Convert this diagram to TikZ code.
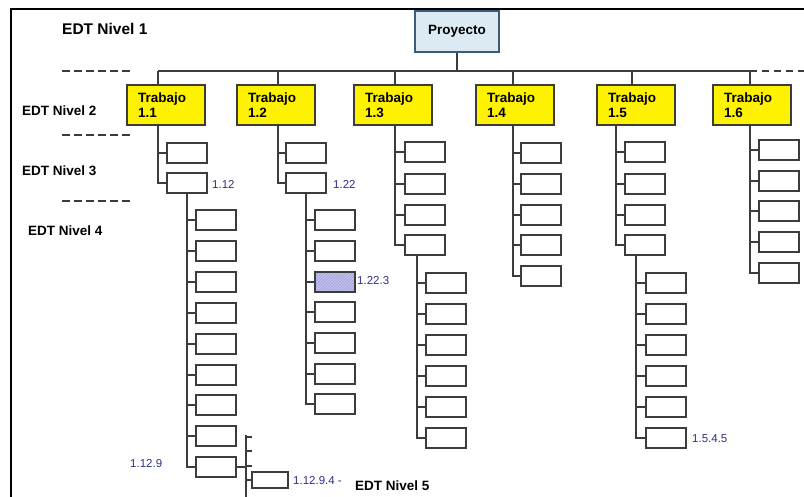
\documentclass[tikz,border=0pt]{standalone}
\usepackage{fontspec}
\setmainfont{Liberation Sans}
\usetikzlibrary{patterns}
\definecolor{linec}{HTML}{3C3C3C}
\definecolor{projfill}{HTML}{DCEBF3}
\definecolor{projdraw}{HTML}{3D5A78}
\definecolor{labblue}{HTML}{2E2E8C}
\definecolor{hilite}{HTML}{ABABE3}
\begin{document}
\begin{tikzpicture}[x=1pt,y=-1pt,
  conn/.style={draw=linec,line width=1.4pt},
  wbox/.style={draw=linec,line width=1.4pt,fill=white,minimum width=40pt,minimum height=20pt,inner sep=0pt},
  sbox/.style={draw=linec,line width=1.4pt,fill=white,minimum width=36pt,minimum height=16pt,inner sep=0pt},
  hbox/.style={wbox,preaction={fill=hilite},pattern=north east lines,pattern color=hilite!60!white},
  lvtwo/.style={draw=linec,line width=1.4pt,fill=yellow,minimum width=78pt,minimum height=40pt,
     text width=56pt,inner xsep=11pt,inner ysep=0pt,align=left,font=\bfseries\fontsize{13.5}{15}\selectfont},
  projbox/.style={draw=projdraw,line width=1.6pt,fill=projfill,minimum width=84pt,minimum height=41pt,
     font=\bfseries\fontsize{13.5}{15}\selectfont},
  edt/.style={anchor=west,inner sep=0pt,font=\bfseries\fontsize{13.5}{15}\selectfont},
  num/.style={anchor=west,inner sep=0pt,text=labblue,font=\fontsize{11.5}{12}\selectfont},
  lmark/.style={line width=2.5pt,dash pattern=on 8pt off 4pt,draw=linec}
]
\useasboundingbox (0,0) rectangle (804,497);
% frame
\draw[line width=2pt,black] (11,497) -- (11,9) -- (804,9);

% level labels
\node[edt,font=\bfseries\fontsize{15.5}{17}\selectfont] (n1) at (62,29) {EDT Nivel 1};
\node[edt] (n2) at (22,111) {EDT Nivel 2};
\node[edt] (n3) at (22,171) {EDT Nivel 3};
\node[edt] (n4) at (28,231) {EDT Nivel 4};
\node[edt] (n5) at (355,486) {EDT Nivel 5};
\coordinate (d1a) at (62,71); \coordinate (d1b) at (132,71);
\coordinate (d2a) at (62,135); \coordinate (d2b) at (132,135);
\coordinate (d3a) at (62,201); \coordinate (d3b) at (132,201);
\draw[lmark] (d1a) -- (d1b);
\draw[lmark] (d2a) -- (d2b);
\draw[lmark] (d3a) -- (d3b);

% level 1
\node[projbox] (proj) at (457,31.5) {Proyecto};
\coordinate (busL) at (158,71);
\coordinate (busR) at (750,71);
\coordinate (busE) at (804,71);
\draw[conn] (busL) -- (busR);
\draw[conn,dash pattern=on 7pt off 5pt] (busR) -- (busE);
\draw[conn] (proj.south) -- (proj.south |- busL);

% level 2
\node[lvtwo] (t11) at (166,105) {Trabajo\\1.1};
\node[lvtwo] (t12) at (276,105) {Trabajo\\1.2};
\node[lvtwo] (t13) at (393,105) {Trabajo\\1.3};
\node[lvtwo] (t14) at (515,105) {Trabajo\\1.4};
\node[lvtwo] (t15) at (636,105) {Trabajo\\1.5};
\node[lvtwo] (t16) at (752,105) {Trabajo\\1.6};
\draw[conn] ([xshift=-8pt]t11.north) -- ([xshift=-8pt]t11.north |- busL);
\draw[conn] ([xshift=2pt]t12.north) -- ([xshift=2pt]t12.north |- busL);
\draw[conn] ([xshift=2pt]t13.north) -- ([xshift=2pt]t13.north |- busL);
\draw[conn] ([xshift=-2pt]t14.north) -- ([xshift=-2pt]t14.north |- busL);
\draw[conn] ([xshift=-4pt]t15.north) -- ([xshift=-4pt]t15.north |- busL);
\draw[conn] ([xshift=-2pt]t16.north) -- ([xshift=-2pt]t16.north |- busL);

% level 3 : 1.1
\node[wbox] (c111) at (187,153) {};
\node[wbox] (c112) at (187,183) {};
\draw[conn] ([xshift=-8pt]t11.south) |- (c111.west);
\draw[conn] ([xshift=-8pt]t11.south) |- (c112.west);
\node[num] (l112) at (212,184) {1.12};
% level 3 : 1.2
\node[wbox] (c121) at (306,153) {};
\node[wbox] (c122) at (306,183) {};
\draw[conn] ([xshift=2pt]t12.south) |- (c121.west);
\draw[conn] ([xshift=2pt]t12.south) |- (c122.west);
\node[num] (l122) at (333,184) {1.22};
% level 3 : 1.3
\foreach \i/\y in {1/152,2/184,3/215,4/245}{
  \node[wbox] (c13\i) at (425,\y) {};
  \draw[conn] ([xshift=2pt]t13.south) |- (c13\i.west);
}
% level 3 : 1.4
\foreach \i/\y in {1/153,2/184,3/215,4/245,5/276}{
  \node[wbox] (c14\i) at (541,\y) {};
  \draw[conn] ([xshift=-2pt]t14.south) |- (c14\i.west);
}
% level 3 : 1.5
\foreach \i/\y in {1/152,2/184,3/215,4/245}{
  \node[wbox] (c15\i) at (645,\y) {};
  \draw[conn] ([xshift=-20pt]t15.south) |- (c15\i.west);
}
% level 3 : 1.6
\foreach \i/\y in {1/150,2/181,3/211,4/242,5/273}{
  \node[wbox] (c16\i) at (779,\y) {};
  \draw[conn] ([xshift=-2pt]t16.south) |- (c16\i.west);
}

% level 4 : 1.1.2
\foreach \i/\y in {1/220,2/251,3/282,4/313,5/344,6/375,7/405,8/436,9/467}{
  \node[wbox] (d112\i) at (216,\y) {};
  \draw[conn] (c112.south) |- (d112\i.west);
}
\node[num] (l1129) at (130,464) {1.12.9};
% level 4 : 1.2.2
\foreach \i/\y in {1/220,2/251,4/312,5/343,6/374,7/404}{
  \node[wbox] (d122\i) at (335,\y) {};
  \draw[conn] (c122.south) |- (d122\i.west);
}
\node[hbox] (d1223) at (335,282) {};
\draw[conn] (c122.south) |- (d1223.west);
\node[num] (l1223) at (357,281) {1.22.3};
% level 4 : 1.3.4
\foreach \i/\y in {1/283,2/314,3/345,4/376,5/407,6/438}{
  \node[wbox] (d134\i) at (446,\y) {};
  \draw[conn] ([xshift=-8pt]c134.south) |- (d134\i.west);
}
% level 4 : 1.5.4
\foreach \i/\y in {1/283,2/314,3/345,4/376,5/407,6/438}{
  \node[wbox] (d154\i) at (666,\y) {};
  \draw[conn] ([xshift=-9pt]c154.south) |- (d154\i.west);
}
\node[num] (l1545) at (692,439) {1.5.4.5};

% level 5 : 1.1.2.9
\coordinate (v5top) at (246,435);
\coordinate (v5bot) at (246,497);
\draw[conn] (d1129.east) -- (d1129.east -| v5top);
\draw[conn] (v5top) -- (v5bot);
\coordinate (tk1) at (252,437);
\coordinate (tk2) at (252,451);
\coordinate (tk3) at (252,466);
\draw[conn] (tk1 -| v5top) -- (tk1);
\draw[conn] (tk2 -| v5top) -- (tk2);
\draw[conn] (tk3 -| v5top) -- (tk3);
\node[sbox] (e11294) at (270,480) {};
\draw[conn] (e11294.west -| v5top) -- (e11294.west);
\node[num] (l11294) at (293,481) {1.12.9.4 -};
\end{tikzpicture}
\end{document}
